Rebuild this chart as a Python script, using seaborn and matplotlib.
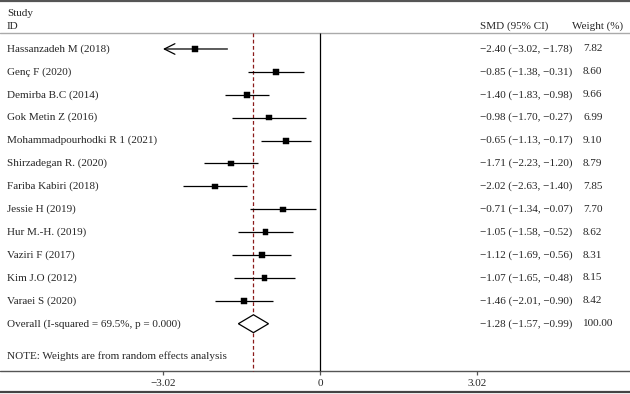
import numpy as np
import pandas as pd
import seaborn as sns
import matplotlib
matplotlib.use("Agg")
import matplotlib.pyplot as plt

# Study-level data
studies = [
    "Hassanzadeh M (2018)", "Genç F (2020)", "Demirba B.C (2014)", "Gok Metin Z (2016)",
    "Mohammadpourhodki R 1 (2021)", "Shirzadegan R. (2020)", "Fariba Kabiri (2018)",
    "Jessie H (2019)", "Hur M.-H. (2019)", "Vaziri F (2017)", "Kim J.O (2012)", "Varaei S (2020)",
]
smd = [-2.40, -0.85, -1.40, -0.98, -0.65, -1.71, -2.02, -0.71, -1.05, -1.12, -1.07, -1.46]
lower = [-3.02, -1.38, -1.83, -1.70, -1.13, -2.23, -2.63, -1.34, -1.58, -1.69, -1.65, -2.01]
upper = [-1.78, -0.31, -0.98, -0.27, -0.17, -1.20, -1.40, -0.07, -0.52, -0.56, -0.48, -0.90]
weights = [7.82, 8.60, 9.66, 6.99, 9.10, 8.79, 7.85, 7.70, 8.62, 8.31, 8.15, 8.42]

overall_label = "Overall (I-squared = 69.5%, p = 0.000)"
overall_smd, overall_lo, overall_hi = -1.28, -1.57, -0.99
note = "NOTE: Weights are from random effects analysis"
tick_values = [-3.02, 0, 3.02]
tick_labels = ["\u22123.02", "0", "3.02"]
axis_limit = 3.02


def fmt(v):
    return f"{v:.2f}".replace("-", "\u2212")


df = pd.DataFrame({"study": studies, "smd": smd, "lower": lower,
                   "upper": upper, "weight": weights})
df["row"] = np.arange(len(df))

sns.set_theme(style="white")
plt.rcParams["font.family"] = ["Liberation Serif", "DejaVu Serif"]

fig = plt.figure(figsize=(6.3, 3.94), dpi=100)
ax = fig.add_axes([0, 0, 1, 1])
ax.set_xlim(-320 / 52.0, 310 / 52.0)
ax.set_ylim(15.07, -2.14)
ax.axis("off")

overall_row = len(df)
header_row = -0.70
axis_row = 14.06

# frame lines
ax.axhline(-2.11, color="#555555", lw=1.6)
ax.axhline(15.0, color="#444444", lw=1.6)
ax.axhline(header_row, color="#aaaaaa", lw=1.0)
ax.axhline(axis_row, color="#555555", lw=1.0)

# null line and overall dashed line
ax.vlines(0, header_row, axis_row, color="black", lw=0.9)
ax.vlines(overall_smd, header_row, axis_row, color="#8b1a1a", lw=0.9,
          linestyles=(0, (3, 2)))

# confidence intervals (truncated ones get an arrow)
for _, r in df.iterrows():
    if r["lower"] <= -axis_limit:
        ax.annotate("", xy=(-axis_limit, r["row"]), xytext=(r["upper"], r["row"]),
                    arrowprops=dict(arrowstyle="->", lw=0.9, color="black",
                                    mutation_scale=19, shrinkA=0, shrinkB=0))
    else:
        ax.hlines(r["row"], r["lower"], r["upper"], color="black", lw=0.9)

# box area proportional to weight
sns.scatterplot(data=df, x="smd", y="row", size="weight", sizes=(14, 19.5),
                marker="s", color="black", edgecolor="black", legend=False, ax=ax)

# overall diamond
dh = 0.39
ax.fill([overall_lo, overall_smd, overall_hi, overall_smd],
        [overall_row, overall_row - dh, overall_row, overall_row + dh],
        facecolor="white", edgecolor="black", lw=0.9, zorder=3)

# text columns
x_name, x_ci, x_w = -6.02, 3.08, 5.06
fs = 8
ax.text(x_name, -1.57, "Study", fontsize=fs, va="center")
ax.text(x_name, -1.0, "ID", fontsize=fs, va="center")
ax.text(x_ci, -1.0, "SMD (95% CI)", fontsize=fs, va="center")
ax.text(4.84, -1.0, "Weight (%)", fontsize=fs, va="center")

for _, r in df.iterrows():
    ax.text(x_name, r["row"], r["study"], fontsize=fs, va="center")
    ax.text(x_ci, r["row"], f"{fmt(r['smd'])} ({fmt(r['lower'])}, {fmt(r['upper'])})",
            fontsize=fs, va="center")
    ax.text(x_w, r["row"], f"{r['weight']:.2f}", fontsize=fs, va="center")

ax.text(x_name, overall_row, overall_label, fontsize=fs, va="center")
ax.text(x_ci, overall_row,
        f"{fmt(overall_smd)} ({fmt(overall_lo)}, {fmt(overall_hi)})",
        fontsize=fs, va="center")
ax.text(x_w, overall_row, "100.00", fontsize=fs, va="center")
ax.text(x_name, 13.42, note, fontsize=fs, va="center")

# x axis ticks
for v, lab in zip(tick_values, tick_labels):
    ax.vlines(v, axis_row, axis_row + 0.2, color="#555555", lw=0.9)
    ax.text(v, 14.6, lab, fontsize=fs, ha="center", va="center")

fig.savefig("out.png", dpi=100)
